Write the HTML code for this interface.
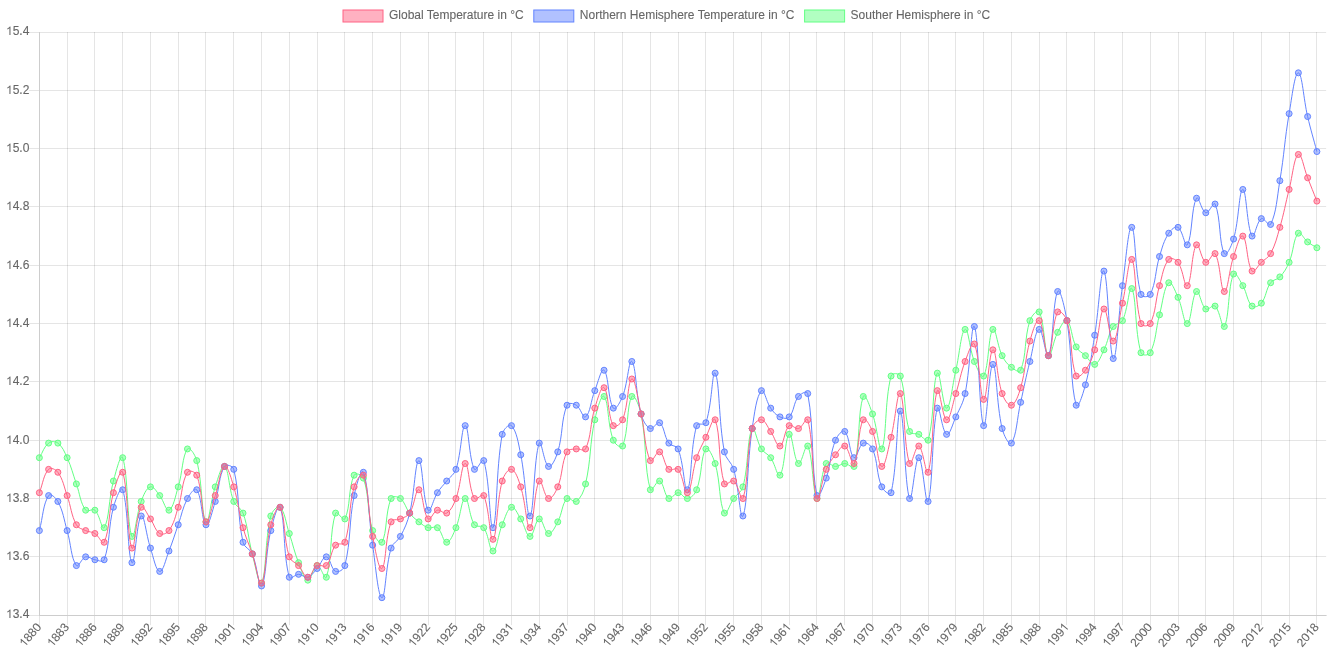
<!DOCTYPE html>
<html><head><meta charset="utf-8"><title>Global Temperature</title>
<style>html,body{margin:0;padding:0;background:#fff;overflow:hidden}svg{will-change:transform}body{font-family:"Liberation Sans",sans-serif}</style></head>
<body>
<svg width="1333" height="666" viewBox="0 0 1333 666" style="display:block">
<rect width="1333" height="666" fill="#fff"/>
<g fill="none" stroke-width="1" stroke="rgba(0,0,0,0.1)"><path d="M39.50,32.00V615.00"/><path d="M39.50,616.00V625.15"/><path d="M67.50,32.00V615.00"/><path d="M67.50,616.00V625.15"/><path d="M94.50,32.00V615.00"/><path d="M94.50,616.00V625.15"/><path d="M122.50,32.00V615.00"/><path d="M122.50,616.00V625.15"/><path d="M150.50,32.00V615.00"/><path d="M150.50,616.00V625.15"/><path d="M178.50,32.00V615.00"/><path d="M178.50,616.00V625.15"/><path d="M205.50,32.00V615.00"/><path d="M205.50,616.00V625.15"/><path d="M233.50,32.00V615.00"/><path d="M233.50,616.00V625.15"/><path d="M261.50,32.00V615.00"/><path d="M261.50,616.00V625.15"/><path d="M289.50,32.00V615.00"/><path d="M289.50,616.00V625.15"/><path d="M317.50,32.00V615.00"/><path d="M317.50,616.00V625.15"/><path d="M344.50,32.00V615.00"/><path d="M344.50,616.00V625.15"/><path d="M372.50,32.00V615.00"/><path d="M372.50,616.00V625.15"/><path d="M400.50,32.00V615.00"/><path d="M400.50,616.00V625.15"/><path d="M428.50,32.00V615.00"/><path d="M428.50,616.00V625.15"/><path d="M455.50,32.00V615.00"/><path d="M455.50,616.00V625.15"/><path d="M483.50,32.00V615.00"/><path d="M483.50,616.00V625.15"/><path d="M511.50,32.00V615.00"/><path d="M511.50,616.00V625.15"/><path d="M539.50,32.00V615.00"/><path d="M539.50,616.00V625.15"/><path d="M567.50,32.00V615.00"/><path d="M567.50,616.00V625.15"/><path d="M594.50,32.00V615.00"/><path d="M594.50,616.00V625.15"/><path d="M622.50,32.00V615.00"/><path d="M622.50,616.00V625.15"/><path d="M650.50,32.00V615.00"/><path d="M650.50,616.00V625.15"/><path d="M678.50,32.00V615.00"/><path d="M678.50,616.00V625.15"/><path d="M705.50,32.00V615.00"/><path d="M705.50,616.00V625.15"/><path d="M733.50,32.00V615.00"/><path d="M733.50,616.00V625.15"/><path d="M761.50,32.00V615.00"/><path d="M761.50,616.00V625.15"/><path d="M789.50,32.00V615.00"/><path d="M789.50,616.00V625.15"/><path d="M816.50,32.00V615.00"/><path d="M816.50,616.00V625.15"/><path d="M844.50,32.00V615.00"/><path d="M844.50,616.00V625.15"/><path d="M872.50,32.00V615.00"/><path d="M872.50,616.00V625.15"/><path d="M900.50,32.00V615.00"/><path d="M900.50,616.00V625.15"/><path d="M928.50,32.00V615.00"/><path d="M928.50,616.00V625.15"/><path d="M955.50,32.00V615.00"/><path d="M955.50,616.00V625.15"/><path d="M983.50,32.00V615.00"/><path d="M983.50,616.00V625.15"/><path d="M1011.50,32.00V615.00"/><path d="M1011.50,616.00V625.15"/><path d="M1039.50,32.00V615.00"/><path d="M1039.50,616.00V625.15"/><path d="M1066.50,32.00V615.00"/><path d="M1066.50,616.00V625.15"/><path d="M1094.50,32.00V615.00"/><path d="M1094.50,616.00V625.15"/><path d="M1122.50,32.00V615.00"/><path d="M1122.50,616.00V625.15"/><path d="M1150.50,32.00V615.00"/><path d="M1150.50,616.00V625.15"/><path d="M1178.50,32.00V615.00"/><path d="M1178.50,616.00V625.15"/><path d="M1205.50,32.00V615.00"/><path d="M1205.50,616.00V625.15"/><path d="M1233.50,32.00V615.00"/><path d="M1233.50,616.00V625.15"/><path d="M1261.50,32.00V615.00"/><path d="M1261.50,616.00V625.15"/><path d="M1289.50,32.00V615.00"/><path d="M1289.50,616.00V625.15"/><path d="M1316.50,32.00V615.00"/><path d="M1316.50,616.00V625.15"/><path d="M40.00,615.50H1326.14"/><path d="M29.06,615.50H39.00"/><path d="M40.00,556.50H1326.14"/><path d="M29.06,556.50H39.00"/><path d="M40.00,498.50H1326.14"/><path d="M29.06,498.50H39.00"/><path d="M40.00,440.50H1326.14"/><path d="M29.06,440.50H39.00"/><path d="M40.00,381.50H1326.14"/><path d="M29.06,381.50H39.00"/><path d="M40.00,323.50H1326.14"/><path d="M29.06,323.50H39.00"/><path d="M40.00,265.50H1326.14"/><path d="M29.06,265.50H39.00"/><path d="M40.00,206.50H1326.14"/><path d="M29.06,206.50H39.00"/><path d="M40.00,148.50H1326.14"/><path d="M29.06,148.50H39.00"/><path d="M40.00,90.50H1326.14"/><path d="M29.06,90.50H39.00"/><path d="M40.00,32.50H1326.14"/><path d="M29.06,32.50H39.00"/><path d="M39.50,32.00V616.00"/><path d="M39.00,615.50H1327.00"/></g>
<defs><path id="g1" d="M763 0H583V1147Q518 1085 412.5 1023Q307 961 223 930V1104Q374 1175 487 1276Q600 1377 647 1472H763Z" transform="scale(0.005859,-0.005859)"/></defs>
<g font-family="'Liberation Sans', sans-serif" font-size="12" fill="#666" stroke="#666" stroke-width="0.1"><text y="618.00" x="12.68 19.35 22.69">3.4</text><use href="#g1" x="6.00" y="618.00"/><text y="560.00" x="12.68 19.35 22.69">3.6</text><use href="#g1" x="6.00" y="560.00"/><text y="502.00" x="12.68 19.35 22.69">3.8</text><use href="#g1" x="6.00" y="502.00"/><text y="444.00" x="12.68 19.35 22.69">4.0</text><use href="#g1" x="6.00" y="444.00"/><text y="385.00" x="12.68 19.35 22.69">4.2</text><use href="#g1" x="6.00" y="385.00"/><text y="327.00" x="12.68 19.35 22.69">4.4</text><use href="#g1" x="6.00" y="327.00"/><text y="269.00" x="12.68 19.35 22.69">4.6</text><use href="#g1" x="6.00" y="269.00"/><text y="210.00" x="12.68 19.35 22.69">4.8</text><use href="#g1" x="6.00" y="210.00"/><text y="152.00" x="12.68 19.35 22.69">5.0</text><use href="#g1" x="6.00" y="152.00"/><text y="94.00" x="12.68 19.35 22.69">5.2</text><use href="#g1" x="6.00" y="94.00"/><text y="35.00" x="12.68 19.35 22.69">5.4</text><use href="#g1" x="6.00" y="35.00"/><g transform="translate(39.36,625.15) rotate(-50)"><text y="3.32" x="-20.02 -13.35 -6.67">880</text><use href="#g1" x="-26.70" y="3.32"/></g><g transform="translate(67.13,625.15) rotate(-50)"><text y="3.32" x="-20.02 -13.35 -6.67">883</text><use href="#g1" x="-26.70" y="3.32"/></g><g transform="translate(94.90,625.15) rotate(-50)"><text y="3.32" x="-20.02 -13.35 -6.67">886</text><use href="#g1" x="-26.70" y="3.32"/></g><g transform="translate(122.68,625.15) rotate(-50)"><text y="3.32" x="-20.02 -13.35 -6.67">889</text><use href="#g1" x="-26.70" y="3.32"/></g><g transform="translate(150.45,625.15) rotate(-50)"><text y="3.32" x="-20.02 -13.35 -6.67">892</text><use href="#g1" x="-26.70" y="3.32"/></g><g transform="translate(178.22,625.15) rotate(-50)"><text y="3.32" x="-20.02 -13.35 -6.67">895</text><use href="#g1" x="-26.70" y="3.32"/></g><g transform="translate(205.99,625.15) rotate(-50)"><text y="3.32" x="-20.02 -13.35 -6.67">898</text><use href="#g1" x="-26.70" y="3.32"/></g><g transform="translate(233.77,625.15) rotate(-50)"><text y="3.32" x="-20.02 -13.35">90</text><use href="#g1" x="-26.70" y="3.32"/><use href="#g1" x="-6.67" y="3.32"/></g><g transform="translate(261.54,625.15) rotate(-50)"><text y="3.32" x="-20.02 -13.35 -6.67">904</text><use href="#g1" x="-26.70" y="3.32"/></g><g transform="translate(289.31,625.15) rotate(-50)"><text y="3.32" x="-20.02 -13.35 -6.67">907</text><use href="#g1" x="-26.70" y="3.32"/></g><g transform="translate(317.08,625.15) rotate(-50)"><text y="3.32" x="-20.02 -6.67">90</text><use href="#g1" x="-26.70" y="3.32"/><use href="#g1" x="-13.35" y="3.32"/></g><g transform="translate(344.85,625.15) rotate(-50)"><text y="3.32" x="-20.02 -6.67">93</text><use href="#g1" x="-26.70" y="3.32"/><use href="#g1" x="-13.35" y="3.32"/></g><g transform="translate(372.63,625.15) rotate(-50)"><text y="3.32" x="-20.02 -6.67">96</text><use href="#g1" x="-26.70" y="3.32"/><use href="#g1" x="-13.35" y="3.32"/></g><g transform="translate(400.40,625.15) rotate(-50)"><text y="3.32" x="-20.02 -6.67">99</text><use href="#g1" x="-26.70" y="3.32"/><use href="#g1" x="-13.35" y="3.32"/></g><g transform="translate(428.17,625.15) rotate(-50)"><text y="3.32" x="-20.02 -13.35 -6.67">922</text><use href="#g1" x="-26.70" y="3.32"/></g><g transform="translate(455.94,625.15) rotate(-50)"><text y="3.32" x="-20.02 -13.35 -6.67">925</text><use href="#g1" x="-26.70" y="3.32"/></g><g transform="translate(483.72,625.15) rotate(-50)"><text y="3.32" x="-20.02 -13.35 -6.67">928</text><use href="#g1" x="-26.70" y="3.32"/></g><g transform="translate(511.49,625.15) rotate(-50)"><text y="3.32" x="-20.02 -13.35">93</text><use href="#g1" x="-26.70" y="3.32"/><use href="#g1" x="-6.67" y="3.32"/></g><g transform="translate(539.26,625.15) rotate(-50)"><text y="3.32" x="-20.02 -13.35 -6.67">934</text><use href="#g1" x="-26.70" y="3.32"/></g><g transform="translate(567.03,625.15) rotate(-50)"><text y="3.32" x="-20.02 -13.35 -6.67">937</text><use href="#g1" x="-26.70" y="3.32"/></g><g transform="translate(594.80,625.15) rotate(-50)"><text y="3.32" x="-20.02 -13.35 -6.67">940</text><use href="#g1" x="-26.70" y="3.32"/></g><g transform="translate(622.58,625.15) rotate(-50)"><text y="3.32" x="-20.02 -13.35 -6.67">943</text><use href="#g1" x="-26.70" y="3.32"/></g><g transform="translate(650.35,625.15) rotate(-50)"><text y="3.32" x="-20.02 -13.35 -6.67">946</text><use href="#g1" x="-26.70" y="3.32"/></g><g transform="translate(678.12,625.15) rotate(-50)"><text y="3.32" x="-20.02 -13.35 -6.67">949</text><use href="#g1" x="-26.70" y="3.32"/></g><g transform="translate(705.89,625.15) rotate(-50)"><text y="3.32" x="-20.02 -13.35 -6.67">952</text><use href="#g1" x="-26.70" y="3.32"/></g><g transform="translate(733.67,625.15) rotate(-50)"><text y="3.32" x="-20.02 -13.35 -6.67">955</text><use href="#g1" x="-26.70" y="3.32"/></g><g transform="translate(761.44,625.15) rotate(-50)"><text y="3.32" x="-20.02 -13.35 -6.67">958</text><use href="#g1" x="-26.70" y="3.32"/></g><g transform="translate(789.21,625.15) rotate(-50)"><text y="3.32" x="-20.02 -13.35">96</text><use href="#g1" x="-26.70" y="3.32"/><use href="#g1" x="-6.67" y="3.32"/></g><g transform="translate(816.98,625.15) rotate(-50)"><text y="3.32" x="-20.02 -13.35 -6.67">964</text><use href="#g1" x="-26.70" y="3.32"/></g><g transform="translate(844.75,625.15) rotate(-50)"><text y="3.32" x="-20.02 -13.35 -6.67">967</text><use href="#g1" x="-26.70" y="3.32"/></g><g transform="translate(872.53,625.15) rotate(-50)"><text y="3.32" x="-20.02 -13.35 -6.67">970</text><use href="#g1" x="-26.70" y="3.32"/></g><g transform="translate(900.30,625.15) rotate(-50)"><text y="3.32" x="-20.02 -13.35 -6.67">973</text><use href="#g1" x="-26.70" y="3.32"/></g><g transform="translate(928.07,625.15) rotate(-50)"><text y="3.32" x="-20.02 -13.35 -6.67">976</text><use href="#g1" x="-26.70" y="3.32"/></g><g transform="translate(955.84,625.15) rotate(-50)"><text y="3.32" x="-20.02 -13.35 -6.67">979</text><use href="#g1" x="-26.70" y="3.32"/></g><g transform="translate(983.62,625.15) rotate(-50)"><text y="3.32" x="-20.02 -13.35 -6.67">982</text><use href="#g1" x="-26.70" y="3.32"/></g><g transform="translate(1011.39,625.15) rotate(-50)"><text y="3.32" x="-20.02 -13.35 -6.67">985</text><use href="#g1" x="-26.70" y="3.32"/></g><g transform="translate(1039.16,625.15) rotate(-50)"><text y="3.32" x="-20.02 -13.35 -6.67">988</text><use href="#g1" x="-26.70" y="3.32"/></g><g transform="translate(1066.93,625.15) rotate(-50)"><text y="3.32" x="-20.02 -13.35">99</text><use href="#g1" x="-26.70" y="3.32"/><use href="#g1" x="-6.67" y="3.32"/></g><g transform="translate(1094.70,625.15) rotate(-50)"><text y="3.32" x="-20.02 -13.35 -6.67">994</text><use href="#g1" x="-26.70" y="3.32"/></g><g transform="translate(1122.48,625.15) rotate(-50)"><text y="3.32" x="-20.02 -13.35 -6.67">997</text><use href="#g1" x="-26.70" y="3.32"/></g><g transform="translate(1150.25,625.15) rotate(-50)"><text y="3.32" x="-26.70 -20.02 -13.35 -6.67">2000</text></g><g transform="translate(1178.02,625.15) rotate(-50)"><text y="3.32" x="-26.70 -20.02 -13.35 -6.67">2003</text></g><g transform="translate(1205.79,625.15) rotate(-50)"><text y="3.32" x="-26.70 -20.02 -13.35 -6.67">2006</text></g><g transform="translate(1233.57,625.15) rotate(-50)"><text y="3.32" x="-26.70 -20.02 -13.35 -6.67">2009</text></g><g transform="translate(1261.34,625.15) rotate(-50)"><text y="3.32" x="-26.70 -20.02 -6.67">202</text><use href="#g1" x="-13.35" y="3.32"/></g><g transform="translate(1289.11,625.15) rotate(-50)"><text y="3.32" x="-26.70 -20.02 -6.67">205</text><use href="#g1" x="-13.35" y="3.32"/></g><g transform="translate(1316.88,625.15) rotate(-50)"><text y="3.32" x="-26.70 -20.02 -6.67">208</text><use href="#g1" x="-13.35" y="3.32"/></g></g>
<rect x="343.0" y="10" width="40" height="12" fill="rgba(255,99,132,0.5)" stroke="rgb(255,99,132)" stroke-width="1"/><text x="389.0" y="19.2" font-family="'Liberation Sans', sans-serif" font-size="12" fill="#666" stroke="#666" stroke-width="0.1">Global Temperature in °C</text><rect x="533.8" y="10" width="40" height="12" fill="rgba(99,132,255,0.5)" stroke="rgb(99,132,255)" stroke-width="1"/><text x="579.8" y="19.2" font-family="'Liberation Sans', sans-serif" font-size="12" fill="#666" stroke="#666" stroke-width="0.1">Northern Hemisphere Temperature in °C</text><rect x="804.6" y="10" width="40" height="12" fill="rgba(99,255,132,0.5)" stroke="rgb(99,255,132)" stroke-width="1"/><text x="850.6" y="19.2" font-family="'Liberation Sans', sans-serif" font-size="12" fill="#666" stroke="#666" stroke-width="0.1">Souther Hemisphere in °C</text>
<path d="M39.36,457.70C43.06,451.87 43.80,446.92 48.62,443.12C51.20,441.09 55.29,441.09 57.87,443.12C62.70,446.92 64.30,451.45 67.13,457.70C71.70,467.77 72.69,473.44 76.39,483.94C80.09,494.44 80.09,502.31 85.65,510.18C87.50,512.80 92.54,507.95 94.90,510.18C99.95,514.95 101.99,531.10 104.16,527.68C109.39,519.44 108.57,499.35 113.42,481.03C115.98,471.36 120.90,452.37 122.68,457.70C128.30,474.53 126.85,524.41 131.93,536.42C134.26,541.91 136.18,514.86 141.19,501.44C143.58,495.03 146.19,488.20 150.45,486.86C153.59,485.87 156.56,491.64 159.71,495.60C163.97,500.97 165.94,511.61 168.96,510.18C173.35,508.11 175.32,496.44 178.22,486.86C182.73,471.95 182.12,456.55 187.48,448.95C189.52,446.05 195.30,454.96 196.74,460.62C202.71,484.12 201.32,515.22 205.99,521.85C208.73,525.72 210.68,500.54 215.25,486.86C218.08,478.38 221.68,464.22 224.51,466.45C229.08,470.05 228.52,488.21 233.77,501.44C235.92,506.88 241.08,507.59 243.02,513.10C248.49,528.58 248.00,537.75 252.28,553.92C255.41,565.74 259.23,587.80 261.54,583.08C266.64,572.63 264.56,541.54 270.80,516.01C271.97,511.21 277.73,505.07 280.05,507.27C285.13,512.07 285.78,522.95 289.31,533.51C293.19,545.11 294.07,551.34 298.57,562.67C301.48,570.00 303.87,579.54 307.82,580.16C311.28,580.70 313.11,566.21 317.08,565.58C320.51,565.04 324.96,581.17 326.34,577.25C332.36,560.17 329.26,533.06 335.60,513.10C336.67,509.73 343.40,521.91 344.85,518.93C350.80,506.75 348.03,488.61 354.11,475.19C355.43,472.28 362.23,474.70 363.37,478.11C369.63,496.86 366.84,510.54 372.63,530.59C374.24,536.20 380.03,545.46 381.88,542.26C387.44,532.63 385.01,513.01 391.14,498.52C392.41,495.52 397.81,496.48 400.40,498.52C405.22,502.32 405.39,507.73 409.66,513.10C412.80,517.06 414.93,518.71 418.91,521.85C422.34,524.54 424.16,526.41 428.17,527.68C431.57,528.75 434.84,525.64 437.43,527.68C442.25,531.47 442.98,542.26 446.69,542.26C450.39,542.26 453.27,533.99 455.94,527.68C460.68,516.50 461.32,499.13 465.20,498.52C468.73,497.96 468.97,516.11 474.46,524.76C476.37,527.78 481.65,524.75 483.72,527.68C489.06,535.25 489.46,551.56 492.97,551.00C496.87,550.39 497.90,534.98 502.23,524.76C505.31,517.49 507.26,508.60 511.49,507.27C514.67,506.27 517.57,513.92 520.75,518.93C524.97,525.59 526.30,536.42 530.00,536.42C533.71,536.42 535.31,519.55 539.26,518.93C542.71,518.39 544.54,532.88 548.52,533.51C551.95,534.05 555.02,527.06 557.77,521.85C562.42,513.06 561.69,504.41 567.03,498.52C569.10,496.24 573.85,503.35 576.29,501.44C581.26,497.52 583.81,491.58 585.55,483.94C591.22,458.92 589.47,445.02 594.80,419.79C596.87,410.03 601.40,393.53 604.06,396.47C608.81,401.70 607.37,424.28 613.32,440.21C614.78,444.10 621.26,449.16 622.58,446.04C628.66,431.66 626.52,405.68 631.83,396.47C633.92,392.85 639.57,406.28 641.09,413.96C646.97,443.60 644.00,466.78 650.35,489.77C651.41,493.61 656.71,479.66 659.61,481.03C664.11,483.15 664.09,495.52 668.86,498.52C671.50,500.18 674.42,492.69 678.12,492.69C681.82,492.69 683.96,499.06 687.38,498.52C691.36,497.89 694.91,494.40 696.64,489.77C702.31,474.57 700.65,456.38 705.89,448.95C708.06,445.89 713.26,456.99 715.15,463.53C720.67,482.64 718.89,502.67 724.41,513.10C726.30,516.67 729.69,504.16 733.67,498.52C737.09,493.66 741.43,492.49 742.92,486.86C748.84,464.50 746.81,439.53 752.18,428.54C754.22,424.37 756.72,441.52 761.44,448.95C764.12,453.18 767.80,453.59 770.70,457.70C775.20,464.09 777.58,478.19 779.95,475.19C784.98,468.86 784.93,437.07 789.21,434.37C792.34,432.40 793.97,460.70 798.47,463.53C801.38,465.36 805.72,442.25 807.73,446.04C813.13,456.24 812.57,494.35 816.98,498.52C819.98,501.35 820.40,473.65 826.24,463.53C827.81,460.82 831.79,466.45 835.50,466.45C839.20,466.45 841.05,463.53 844.75,463.53C848.46,463.53 853.12,469.69 854.01,466.45C860.52,442.86 857.49,412.86 863.27,396.47C864.89,391.87 869.91,406.54 872.53,413.96C877.31,427.53 879.34,453.96 881.78,448.95C886.75,438.79 884.46,401.95 891.04,376.06C891.87,372.80 899.25,372.92 900.30,376.06C906.66,395.08 903.24,411.57 909.56,431.46C910.65,434.89 915.33,432.73 918.81,434.37C922.74,436.23 927.04,443.61 928.07,440.21C934.45,419.12 932.50,381.50 937.33,373.14C939.91,368.67 943.02,408.69 946.59,408.13C950.43,407.53 952.27,385.42 955.84,370.23C959.68,353.93 960.98,331.35 965.10,329.41C968.39,327.85 969.48,349.18 974.36,361.48C976.88,367.84 981.64,379.48 983.62,376.06C989.05,366.65 988.20,334.56 992.87,329.41C995.61,326.39 997.31,345.77 1002.13,355.65C1004.71,360.93 1006.90,363.78 1011.39,367.31C1014.31,369.61 1019.45,373.24 1020.65,370.23C1026.86,354.58 1023.99,339.28 1029.90,320.66C1031.40,315.96 1037.52,308.81 1039.16,311.91C1044.92,322.80 1043.67,350.42 1048.42,355.65C1051.08,358.58 1053.03,341.11 1057.68,332.32C1060.43,327.11 1064.35,318.63 1066.93,320.66C1071.76,324.46 1071.11,337.30 1076.19,346.90C1078.52,351.30 1081.74,352.15 1085.45,355.65C1089.15,359.15 1091.56,365.39 1094.70,364.40C1098.97,363.05 1100.94,356.00 1103.96,349.82C1108.35,340.84 1108.06,334.61 1113.22,326.49C1115.47,322.95 1120.65,324.40 1122.48,320.66C1128.05,309.24 1129.22,284.22 1131.73,288.59C1136.62,297.05 1134.51,330.28 1140.99,352.73C1141.92,355.94 1148.83,355.64 1150.25,352.73C1156.23,340.48 1155.52,329.91 1159.51,314.83C1162.92,301.92 1163.88,287.37 1168.76,282.75C1171.29,280.37 1175.19,291.08 1178.02,297.33C1182.59,307.41 1183.91,324.64 1187.28,323.57C1191.32,322.30 1191.89,295.16 1196.54,291.50C1199.29,289.33 1200.82,305.08 1205.79,309.00C1208.23,310.91 1212.81,303.97 1215.05,306.08C1220.22,310.96 1222.12,330.29 1224.31,326.49C1229.52,317.46 1227.78,286.77 1233.57,274.01C1235.18,270.44 1239.87,280.55 1242.82,285.67C1247.27,293.38 1246.91,301.20 1252.08,306.08C1254.32,308.20 1259.10,305.98 1261.34,303.16C1266.51,296.65 1265.62,289.81 1270.60,282.75C1273.02,279.31 1276.98,280.09 1279.85,276.92C1284.39,271.93 1286.44,268.66 1289.11,262.34C1293.84,251.16 1293.14,238.95 1298.37,233.19C1300.54,230.79 1303.64,238.80 1307.63,241.93C1311.05,244.63 1313.18,245.43 1316.88,247.77" fill="none" stroke="rgb(99,255,132)" stroke-width="1"/>
<g fill="rgba(99,255,132,0.5)" stroke="rgb(99,255,132)" stroke-width="1"><circle cx="39.36" cy="457.70" r="3"/><circle cx="48.62" cy="443.12" r="3"/><circle cx="57.87" cy="443.12" r="3"/><circle cx="67.13" cy="457.70" r="3"/><circle cx="76.39" cy="483.94" r="3"/><circle cx="85.65" cy="510.18" r="3"/><circle cx="94.90" cy="510.18" r="3"/><circle cx="104.16" cy="527.68" r="3"/><circle cx="113.42" cy="481.03" r="3"/><circle cx="122.68" cy="457.70" r="3"/><circle cx="131.93" cy="536.42" r="3"/><circle cx="141.19" cy="501.44" r="3"/><circle cx="150.45" cy="486.86" r="3"/><circle cx="159.71" cy="495.60" r="3"/><circle cx="168.96" cy="510.18" r="3"/><circle cx="178.22" cy="486.86" r="3"/><circle cx="187.48" cy="448.95" r="3"/><circle cx="196.74" cy="460.62" r="3"/><circle cx="205.99" cy="521.85" r="3"/><circle cx="215.25" cy="486.86" r="3"/><circle cx="224.51" cy="466.45" r="3"/><circle cx="233.77" cy="501.44" r="3"/><circle cx="243.02" cy="513.10" r="3"/><circle cx="252.28" cy="553.92" r="3"/><circle cx="261.54" cy="583.08" r="3"/><circle cx="270.80" cy="516.01" r="3"/><circle cx="280.05" cy="507.27" r="3"/><circle cx="289.31" cy="533.51" r="3"/><circle cx="298.57" cy="562.67" r="3"/><circle cx="307.82" cy="580.16" r="3"/><circle cx="317.08" cy="565.58" r="3"/><circle cx="326.34" cy="577.25" r="3"/><circle cx="335.60" cy="513.10" r="3"/><circle cx="344.85" cy="518.93" r="3"/><circle cx="354.11" cy="475.19" r="3"/><circle cx="363.37" cy="478.11" r="3"/><circle cx="372.63" cy="530.59" r="3"/><circle cx="381.88" cy="542.26" r="3"/><circle cx="391.14" cy="498.52" r="3"/><circle cx="400.40" cy="498.52" r="3"/><circle cx="409.66" cy="513.10" r="3"/><circle cx="418.91" cy="521.85" r="3"/><circle cx="428.17" cy="527.68" r="3"/><circle cx="437.43" cy="527.68" r="3"/><circle cx="446.69" cy="542.26" r="3"/><circle cx="455.94" cy="527.68" r="3"/><circle cx="465.20" cy="498.52" r="3"/><circle cx="474.46" cy="524.76" r="3"/><circle cx="483.72" cy="527.68" r="3"/><circle cx="492.97" cy="551.00" r="3"/><circle cx="502.23" cy="524.76" r="3"/><circle cx="511.49" cy="507.27" r="3"/><circle cx="520.75" cy="518.93" r="3"/><circle cx="530.00" cy="536.42" r="3"/><circle cx="539.26" cy="518.93" r="3"/><circle cx="548.52" cy="533.51" r="3"/><circle cx="557.77" cy="521.85" r="3"/><circle cx="567.03" cy="498.52" r="3"/><circle cx="576.29" cy="501.44" r="3"/><circle cx="585.55" cy="483.94" r="3"/><circle cx="594.80" cy="419.79" r="3"/><circle cx="604.06" cy="396.47" r="3"/><circle cx="613.32" cy="440.21" r="3"/><circle cx="622.58" cy="446.04" r="3"/><circle cx="631.83" cy="396.47" r="3"/><circle cx="641.09" cy="413.96" r="3"/><circle cx="650.35" cy="489.77" r="3"/><circle cx="659.61" cy="481.03" r="3"/><circle cx="668.86" cy="498.52" r="3"/><circle cx="678.12" cy="492.69" r="3"/><circle cx="687.38" cy="498.52" r="3"/><circle cx="696.64" cy="489.77" r="3"/><circle cx="705.89" cy="448.95" r="3"/><circle cx="715.15" cy="463.53" r="3"/><circle cx="724.41" cy="513.10" r="3"/><circle cx="733.67" cy="498.52" r="3"/><circle cx="742.92" cy="486.86" r="3"/><circle cx="752.18" cy="428.54" r="3"/><circle cx="761.44" cy="448.95" r="3"/><circle cx="770.70" cy="457.70" r="3"/><circle cx="779.95" cy="475.19" r="3"/><circle cx="789.21" cy="434.37" r="3"/><circle cx="798.47" cy="463.53" r="3"/><circle cx="807.73" cy="446.04" r="3"/><circle cx="816.98" cy="498.52" r="3"/><circle cx="826.24" cy="463.53" r="3"/><circle cx="835.50" cy="466.45" r="3"/><circle cx="844.75" cy="463.53" r="3"/><circle cx="854.01" cy="466.45" r="3"/><circle cx="863.27" cy="396.47" r="3"/><circle cx="872.53" cy="413.96" r="3"/><circle cx="881.78" cy="448.95" r="3"/><circle cx="891.04" cy="376.06" r="3"/><circle cx="900.30" cy="376.06" r="3"/><circle cx="909.56" cy="431.46" r="3"/><circle cx="918.81" cy="434.37" r="3"/><circle cx="928.07" cy="440.21" r="3"/><circle cx="937.33" cy="373.14" r="3"/><circle cx="946.59" cy="408.13" r="3"/><circle cx="955.84" cy="370.23" r="3"/><circle cx="965.10" cy="329.41" r="3"/><circle cx="974.36" cy="361.48" r="3"/><circle cx="983.62" cy="376.06" r="3"/><circle cx="992.87" cy="329.41" r="3"/><circle cx="1002.13" cy="355.65" r="3"/><circle cx="1011.39" cy="367.31" r="3"/><circle cx="1020.65" cy="370.23" r="3"/><circle cx="1029.90" cy="320.66" r="3"/><circle cx="1039.16" cy="311.91" r="3"/><circle cx="1048.42" cy="355.65" r="3"/><circle cx="1057.68" cy="332.32" r="3"/><circle cx="1066.93" cy="320.66" r="3"/><circle cx="1076.19" cy="346.90" r="3"/><circle cx="1085.45" cy="355.65" r="3"/><circle cx="1094.70" cy="364.40" r="3"/><circle cx="1103.96" cy="349.82" r="3"/><circle cx="1113.22" cy="326.49" r="3"/><circle cx="1122.48" cy="320.66" r="3"/><circle cx="1131.73" cy="288.59" r="3"/><circle cx="1140.99" cy="352.73" r="3"/><circle cx="1150.25" cy="352.73" r="3"/><circle cx="1159.51" cy="314.83" r="3"/><circle cx="1168.76" cy="282.75" r="3"/><circle cx="1178.02" cy="297.33" r="3"/><circle cx="1187.28" cy="323.57" r="3"/><circle cx="1196.54" cy="291.50" r="3"/><circle cx="1205.79" cy="309.00" r="3"/><circle cx="1215.05" cy="306.08" r="3"/><circle cx="1224.31" cy="326.49" r="3"/><circle cx="1233.57" cy="274.01" r="3"/><circle cx="1242.82" cy="285.67" r="3"/><circle cx="1252.08" cy="306.08" r="3"/><circle cx="1261.34" cy="303.16" r="3"/><circle cx="1270.60" cy="282.75" r="3"/><circle cx="1279.85" cy="276.92" r="3"/><circle cx="1289.11" cy="262.34" r="3"/><circle cx="1298.37" cy="233.19" r="3"/><circle cx="1307.63" cy="241.93" r="3"/><circle cx="1316.88" cy="247.77" r="3"/></g>
<path d="M39.36,530.59C43.06,516.60 42.93,504.56 48.62,495.60C50.34,492.90 55.92,497.75 57.87,501.44C63.33,511.74 63.74,518.84 67.13,530.59C71.15,544.50 70.91,557.82 76.39,565.58C78.32,568.31 81.44,558.16 85.65,556.84C88.85,555.83 91.11,559.15 94.90,559.75C98.52,560.32 103.07,562.86 104.16,559.75C110.47,541.86 108.02,527.68 113.42,507.27C115.42,499.69 121.11,485.07 122.68,489.77C128.51,507.23 127.44,556.29 131.93,562.67C134.84,566.79 136.84,519.44 141.19,516.01C144.25,513.61 146.22,535.44 150.45,548.09C153.63,557.60 155.79,570.80 159.71,571.41C163.20,571.96 165.66,559.33 168.96,551.00C173.07,540.67 174.52,535.26 178.22,524.76C181.92,514.27 182.40,508.12 187.48,498.52C189.80,494.13 194.81,487.04 196.74,489.77C202.21,497.54 201.62,522.01 205.99,524.76C209.03,526.67 212.22,510.99 215.25,501.44C219.62,487.66 218.67,476.56 224.51,466.45C226.07,463.73 232.90,465.82 233.77,469.36C240.31,496.15 236.87,514.13 243.02,542.26C244.27,547.96 250.00,548.52 252.28,553.92C257.40,566.02 258.78,589.47 261.54,585.99C266.18,580.14 265.68,552.36 270.80,530.59C273.08,520.87 278.11,502.37 280.05,507.27C285.52,521.03 282.80,553.66 289.31,577.25C290.21,580.49 294.86,574.33 298.57,574.33C302.27,574.33 304.62,578.25 307.82,577.25C312.03,575.92 313.67,572.26 317.08,568.50C321.07,564.10 322.91,556.29 326.34,556.84C330.32,557.46 331.06,569.27 335.60,571.41C338.47,572.77 343.86,569.65 344.85,565.58C351.27,539.33 348.65,523.14 354.11,495.60C356.05,485.82 361.48,467.23 363.37,472.28C368.89,487.06 368.33,516.10 372.63,545.17C375.74,566.25 378.08,597.06 381.88,597.66C385.48,598.22 385.42,567.00 391.14,548.09C392.83,542.50 397.64,541.64 400.40,536.42C405.05,527.64 407.29,522.81 409.66,513.10C414.69,492.48 415.11,461.21 418.91,460.62C422.51,460.05 422.85,500.97 428.17,510.18C430.26,513.80 433.20,499.34 437.43,492.69C440.61,487.68 442.98,485.69 446.69,481.03C450.39,476.36 454.09,474.90 455.94,469.36C461.50,452.74 461.50,425.63 465.20,425.63C468.90,425.63 468.69,458.47 474.46,469.36C476.10,472.47 482.54,456.92 483.72,460.62C489.95,480.25 489.87,532.08 492.97,527.68C497.27,521.58 495.71,470.31 502.23,434.37C503.12,429.49 509.31,423.23 511.49,425.63C516.72,431.39 518.30,442.83 520.75,454.78C525.70,478.98 526.62,518.15 530.00,516.01C534.02,513.48 533.74,457.90 539.26,443.12C541.15,438.07 544.13,464.37 548.52,466.45C551.54,467.87 555.80,458.39 557.77,451.87C563.21,433.90 560.83,420.84 567.03,405.22C568.24,402.18 573.45,403.43 576.29,405.22C580.86,408.09 582.97,418.91 585.55,416.88C590.37,413.08 590.70,400.97 594.80,390.64C598.11,382.31 601.36,367.67 604.06,370.23C608.77,374.67 607.96,400.53 613.32,408.13C615.37,411.03 620.42,401.91 622.58,396.47C627.82,383.25 628.84,358.65 631.83,361.48C636.24,365.65 635.50,393.70 641.09,413.96C642.90,420.53 645.82,426.40 650.35,428.54C653.22,429.90 657.18,420.80 659.61,422.71C664.58,426.63 663.89,436.07 668.86,443.12C671.29,446.56 676.59,445.09 678.12,448.95C683.99,463.75 684.47,493.43 687.38,489.77C691.88,484.10 690.19,448.96 696.64,425.63C697.60,422.13 704.70,426.10 705.89,422.71C712.10,405.11 712.27,368.61 715.15,373.14C719.68,380.27 718.48,421.07 724.41,451.87C725.89,459.56 731.49,461.82 733.67,469.36C738.90,487.48 740.32,521.74 742.92,516.01C747.73,505.42 747.05,463.28 752.18,428.54C754.46,413.13 756.52,396.05 761.44,390.64C763.93,387.89 766.19,401.74 770.70,408.13C773.60,412.24 775.66,414.85 779.95,416.88C783.07,418.35 787.05,419.27 789.21,416.88C794.45,411.10 793.30,402.98 798.47,396.47C800.71,393.65 807.08,390.12 807.73,393.55C814.49,429.78 810.78,467.26 816.98,495.60C818.18,501.08 823.75,485.57 826.24,478.11C831.15,463.41 829.91,454.27 835.50,440.21C837.32,435.61 842.43,429.26 844.75,431.46C849.84,436.26 849.44,454.82 854.01,457.70C856.85,459.49 858.74,445.26 863.27,443.12C866.14,441.76 870.91,445.12 872.53,448.95C878.31,462.62 876.00,473.19 881.78,486.86C883.41,490.69 890.17,496.25 891.04,492.69C897.58,465.93 896.72,409.92 900.30,411.05C904.13,412.25 904.54,485.88 909.56,498.52C911.94,504.54 915.23,457.14 918.81,457.70C922.64,458.30 925.68,507.84 928.07,501.44C933.09,488.01 931.62,428.82 937.33,408.13C939.02,401.99 942.26,432.33 946.59,434.37C949.66,435.83 952.58,424.08 955.84,416.88C959.98,407.75 963.10,403.33 965.10,393.55C970.50,367.18 971.36,321.30 974.36,326.49C978.77,334.13 979.05,416.28 983.62,425.63C986.46,431.44 989.25,363.83 992.87,364.40C996.66,364.99 996.28,403.68 1002.13,428.54C1003.69,435.17 1009.22,446.19 1011.39,443.12C1016.63,435.69 1016.94,418.63 1020.65,402.30C1024.35,385.97 1025.78,377.70 1029.90,361.48C1033.19,348.54 1035.12,330.68 1039.16,329.41C1042.53,328.35 1046.19,360.20 1048.42,355.65C1053.60,345.04 1052.64,301.01 1057.68,291.50C1060.05,287.01 1064.97,308.63 1066.93,320.66C1072.38,354.11 1070.33,384.91 1076.19,405.22C1077.73,410.57 1083.17,393.42 1085.45,384.81C1090.57,365.43 1091.46,355.14 1094.70,335.24C1098.87,309.66 1100.82,267.13 1103.96,271.09C1108.23,276.46 1109.18,355.39 1113.22,358.56C1116.59,361.22 1118.37,314.77 1122.48,285.67C1125.78,262.29 1128.28,225.73 1131.73,227.36C1135.69,229.22 1134.48,270.82 1140.99,294.42C1141.88,297.64 1148.83,297.32 1150.25,294.42C1156.23,282.16 1155.00,271.42 1159.51,256.51C1162.41,246.93 1163.61,241.31 1168.76,233.19C1171.01,229.65 1175.38,225.69 1178.02,227.36C1182.79,230.36 1185.10,248.28 1187.28,244.85C1192.51,236.61 1191.10,207.61 1196.54,198.20C1198.51,194.78 1201.53,211.43 1205.79,212.78C1208.94,213.77 1213.56,200.74 1215.05,204.03C1220.96,217.06 1218.79,243.17 1224.31,253.60C1226.20,257.17 1231.68,245.56 1233.57,239.02C1239.08,219.91 1239.01,190.05 1242.82,189.45C1246.42,188.88 1246.85,227.87 1252.08,236.10C1254.26,239.53 1256.57,221.61 1261.34,218.61C1263.97,216.95 1269.14,227.42 1270.60,224.44C1276.55,212.26 1276.91,198.33 1279.85,180.70C1284.31,154.01 1284.53,140.31 1289.11,113.64C1291.94,97.15 1294.79,72.26 1298.37,72.82C1302.19,73.42 1303.53,99.15 1307.63,116.56C1310.94,130.65 1313.18,137.55 1316.88,151.55" fill="none" stroke="rgb(99,132,255)" stroke-width="1"/>
<g fill="rgba(99,132,255,0.5)" stroke="rgb(99,132,255)" stroke-width="1"><circle cx="39.36" cy="530.59" r="3"/><circle cx="48.62" cy="495.60" r="3"/><circle cx="57.87" cy="501.44" r="3"/><circle cx="67.13" cy="530.59" r="3"/><circle cx="76.39" cy="565.58" r="3"/><circle cx="85.65" cy="556.84" r="3"/><circle cx="94.90" cy="559.75" r="3"/><circle cx="104.16" cy="559.75" r="3"/><circle cx="113.42" cy="507.27" r="3"/><circle cx="122.68" cy="489.77" r="3"/><circle cx="131.93" cy="562.67" r="3"/><circle cx="141.19" cy="516.01" r="3"/><circle cx="150.45" cy="548.09" r="3"/><circle cx="159.71" cy="571.41" r="3"/><circle cx="168.96" cy="551.00" r="3"/><circle cx="178.22" cy="524.76" r="3"/><circle cx="187.48" cy="498.52" r="3"/><circle cx="196.74" cy="489.77" r="3"/><circle cx="205.99" cy="524.76" r="3"/><circle cx="215.25" cy="501.44" r="3"/><circle cx="224.51" cy="466.45" r="3"/><circle cx="233.77" cy="469.36" r="3"/><circle cx="243.02" cy="542.26" r="3"/><circle cx="252.28" cy="553.92" r="3"/><circle cx="261.54" cy="585.99" r="3"/><circle cx="270.80" cy="530.59" r="3"/><circle cx="280.05" cy="507.27" r="3"/><circle cx="289.31" cy="577.25" r="3"/><circle cx="298.57" cy="574.33" r="3"/><circle cx="307.82" cy="577.25" r="3"/><circle cx="317.08" cy="568.50" r="3"/><circle cx="326.34" cy="556.84" r="3"/><circle cx="335.60" cy="571.41" r="3"/><circle cx="344.85" cy="565.58" r="3"/><circle cx="354.11" cy="495.60" r="3"/><circle cx="363.37" cy="472.28" r="3"/><circle cx="372.63" cy="545.17" r="3"/><circle cx="381.88" cy="597.66" r="3"/><circle cx="391.14" cy="548.09" r="3"/><circle cx="400.40" cy="536.42" r="3"/><circle cx="409.66" cy="513.10" r="3"/><circle cx="418.91" cy="460.62" r="3"/><circle cx="428.17" cy="510.18" r="3"/><circle cx="437.43" cy="492.69" r="3"/><circle cx="446.69" cy="481.03" r="3"/><circle cx="455.94" cy="469.36" r="3"/><circle cx="465.20" cy="425.63" r="3"/><circle cx="474.46" cy="469.36" r="3"/><circle cx="483.72" cy="460.62" r="3"/><circle cx="492.97" cy="527.68" r="3"/><circle cx="502.23" cy="434.37" r="3"/><circle cx="511.49" cy="425.63" r="3"/><circle cx="520.75" cy="454.78" r="3"/><circle cx="530.00" cy="516.01" r="3"/><circle cx="539.26" cy="443.12" r="3"/><circle cx="548.52" cy="466.45" r="3"/><circle cx="557.77" cy="451.87" r="3"/><circle cx="567.03" cy="405.22" r="3"/><circle cx="576.29" cy="405.22" r="3"/><circle cx="585.55" cy="416.88" r="3"/><circle cx="594.80" cy="390.64" r="3"/><circle cx="604.06" cy="370.23" r="3"/><circle cx="613.32" cy="408.13" r="3"/><circle cx="622.58" cy="396.47" r="3"/><circle cx="631.83" cy="361.48" r="3"/><circle cx="641.09" cy="413.96" r="3"/><circle cx="650.35" cy="428.54" r="3"/><circle cx="659.61" cy="422.71" r="3"/><circle cx="668.86" cy="443.12" r="3"/><circle cx="678.12" cy="448.95" r="3"/><circle cx="687.38" cy="489.77" r="3"/><circle cx="696.64" cy="425.63" r="3"/><circle cx="705.89" cy="422.71" r="3"/><circle cx="715.15" cy="373.14" r="3"/><circle cx="724.41" cy="451.87" r="3"/><circle cx="733.67" cy="469.36" r="3"/><circle cx="742.92" cy="516.01" r="3"/><circle cx="752.18" cy="428.54" r="3"/><circle cx="761.44" cy="390.64" r="3"/><circle cx="770.70" cy="408.13" r="3"/><circle cx="779.95" cy="416.88" r="3"/><circle cx="789.21" cy="416.88" r="3"/><circle cx="798.47" cy="396.47" r="3"/><circle cx="807.73" cy="393.55" r="3"/><circle cx="816.98" cy="495.60" r="3"/><circle cx="826.24" cy="478.11" r="3"/><circle cx="835.50" cy="440.21" r="3"/><circle cx="844.75" cy="431.46" r="3"/><circle cx="854.01" cy="457.70" r="3"/><circle cx="863.27" cy="443.12" r="3"/><circle cx="872.53" cy="448.95" r="3"/><circle cx="881.78" cy="486.86" r="3"/><circle cx="891.04" cy="492.69" r="3"/><circle cx="900.30" cy="411.05" r="3"/><circle cx="909.56" cy="498.52" r="3"/><circle cx="918.81" cy="457.70" r="3"/><circle cx="928.07" cy="501.44" r="3"/><circle cx="937.33" cy="408.13" r="3"/><circle cx="946.59" cy="434.37" r="3"/><circle cx="955.84" cy="416.88" r="3"/><circle cx="965.10" cy="393.55" r="3"/><circle cx="974.36" cy="326.49" r="3"/><circle cx="983.62" cy="425.63" r="3"/><circle cx="992.87" cy="364.40" r="3"/><circle cx="1002.13" cy="428.54" r="3"/><circle cx="1011.39" cy="443.12" r="3"/><circle cx="1020.65" cy="402.30" r="3"/><circle cx="1029.90" cy="361.48" r="3"/><circle cx="1039.16" cy="329.41" r="3"/><circle cx="1048.42" cy="355.65" r="3"/><circle cx="1057.68" cy="291.50" r="3"/><circle cx="1066.93" cy="320.66" r="3"/><circle cx="1076.19" cy="405.22" r="3"/><circle cx="1085.45" cy="384.81" r="3"/><circle cx="1094.70" cy="335.24" r="3"/><circle cx="1103.96" cy="271.09" r="3"/><circle cx="1113.22" cy="358.56" r="3"/><circle cx="1122.48" cy="285.67" r="3"/><circle cx="1131.73" cy="227.36" r="3"/><circle cx="1140.99" cy="294.42" r="3"/><circle cx="1150.25" cy="294.42" r="3"/><circle cx="1159.51" cy="256.51" r="3"/><circle cx="1168.76" cy="233.19" r="3"/><circle cx="1178.02" cy="227.36" r="3"/><circle cx="1187.28" cy="244.85" r="3"/><circle cx="1196.54" cy="198.20" r="3"/><circle cx="1205.79" cy="212.78" r="3"/><circle cx="1215.05" cy="204.03" r="3"/><circle cx="1224.31" cy="253.60" r="3"/><circle cx="1233.57" cy="239.02" r="3"/><circle cx="1242.82" cy="189.45" r="3"/><circle cx="1252.08" cy="236.10" r="3"/><circle cx="1261.34" cy="218.61" r="3"/><circle cx="1270.60" cy="224.44" r="3"/><circle cx="1279.85" cy="180.70" r="3"/><circle cx="1289.11" cy="113.64" r="3"/><circle cx="1298.37" cy="72.82" r="3"/><circle cx="1307.63" cy="116.56" r="3"/><circle cx="1316.88" cy="151.55" r="3"/></g>
<path d="M39.36,492.69C43.06,483.36 43.28,475.25 48.62,469.36C50.68,467.09 55.81,469.35 57.87,472.28C63.22,479.85 63.79,486.14 67.13,495.60C71.20,507.14 70.93,514.45 76.39,524.76C78.34,528.45 81.72,528.74 85.65,530.59C89.13,532.24 91.70,531.49 94.90,533.51C99.11,536.16 102.67,545.55 104.16,542.26C110.07,529.22 108.29,512.07 113.42,492.69C115.70,484.08 121.00,467.25 122.68,472.28C128.40,489.41 127.15,539.05 131.93,548.09C134.56,553.04 135.73,515.87 141.19,507.27C143.13,504.21 147.02,514.07 150.45,518.93C154.43,524.57 154.97,530.52 159.71,533.51C162.37,535.19 166.90,533.52 168.96,530.59C174.30,523.02 175.19,516.82 178.22,507.27C182.59,493.49 181.64,482.39 187.48,472.28C189.04,469.57 195.48,471.83 196.74,475.19C202.89,491.66 201.32,516.70 205.99,521.85C208.73,524.86 211.72,506.16 215.25,495.60C219.13,484.00 220.23,468.47 224.51,466.45C227.64,464.97 231.18,478.32 233.77,486.86C238.59,502.81 238.57,511.56 243.02,527.68C245.98,538.39 248.75,543.36 252.28,553.92C256.16,565.52 259.01,587.06 261.54,583.08C266.42,575.39 265.25,547.47 270.80,524.76C272.65,517.15 277.97,503.65 280.05,507.27C285.37,516.48 283.40,538.21 289.31,556.84C290.80,561.54 295.15,561.82 298.57,565.58C302.56,569.98 304.12,577.25 307.82,577.25C311.53,577.25 312.52,568.46 317.08,565.58C319.92,563.79 324.17,567.97 326.34,565.58C331.58,559.80 330.43,551.68 335.60,545.17C337.84,542.35 343.76,545.69 344.85,542.26C351.17,522.37 348.26,508.06 354.11,486.86C355.66,481.24 361.93,471.35 363.37,475.19C369.34,491.18 367.81,512.18 372.63,536.42C375.22,549.50 378.83,570.90 381.88,568.50C386.24,565.07 384.99,538.31 391.14,521.85C392.40,518.49 396.92,520.58 400.40,518.93C404.32,517.08 407.41,516.64 409.66,513.10C414.81,504.98 415.58,488.72 418.91,489.77C422.98,491.05 422.94,513.17 428.17,518.93C430.35,521.33 433.23,511.51 437.43,510.18C440.63,509.17 444.02,514.78 446.69,513.10C451.43,510.11 453.55,504.92 455.94,498.52C460.96,485.10 461.50,463.53 465.20,463.53C468.90,463.53 468.62,488.40 474.46,498.52C476.02,501.23 482.39,492.69 483.72,495.60C489.80,509.02 489.78,541.85 492.97,539.34C497.19,536.02 496.32,503.38 502.23,481.03C503.72,475.39 508.31,468.36 511.49,469.36C515.71,470.69 518.37,479.37 520.75,486.86C525.77,502.69 526.54,528.77 530.00,527.68C533.94,526.44 534.03,489.26 539.26,481.03C541.44,477.60 544.29,497.19 548.52,498.52C551.70,499.52 555.62,492.30 557.77,486.86C563.02,473.64 561.19,463.82 567.03,451.87C568.60,448.66 572.50,449.55 576.29,448.95C579.91,448.38 584.21,451.91 585.55,448.95C591.61,435.58 589.98,424.08 594.80,408.13C597.39,399.59 601.36,385.17 604.06,387.72C608.77,392.17 607.54,415.61 613.32,425.63C614.94,428.44 621.04,423.66 622.58,419.79C628.45,405.00 627.86,380.23 631.83,378.97C635.27,377.89 637.89,399.85 641.09,413.96C645.30,432.51 644.51,448.66 650.35,460.62C651.91,463.82 656.71,450.50 659.61,451.87C664.11,454.00 663.82,464.59 668.86,469.36C671.22,471.59 676.13,466.85 678.12,469.36C683.53,476.18 684.35,494.60 687.38,492.69C691.75,489.93 692.06,471.38 696.64,457.70C699.47,449.23 701.96,445.34 705.89,437.29C709.37,430.18 713.42,415.43 715.15,419.79C720.82,434.09 717.97,462.64 724.41,483.94C725.37,487.13 731.23,479.11 733.67,481.03C738.63,484.94 741.30,503.12 742.92,498.52C748.71,482.12 745.91,455.22 752.18,428.54C753.31,423.73 758.02,419.26 761.44,419.79C765.43,420.42 767.27,426.60 770.70,431.46C774.67,437.09 776.73,447.05 779.95,446.04C784.14,444.72 784.04,430.51 789.21,425.63C791.45,423.51 795.26,429.55 798.47,428.54C802.67,427.22 806.70,415.92 807.73,419.79C814.11,443.91 811.64,484.21 816.98,498.52C819.04,504.04 821.51,480.54 826.24,469.36C828.91,463.05 831.23,460.15 835.50,454.78C838.64,450.82 841.85,444.67 844.75,446.04C849.26,448.17 851.74,466.75 854.01,463.53C859.15,456.26 857.71,429.42 863.27,419.79C865.12,416.59 870.37,426.02 872.53,431.46C877.77,444.68 877.77,465.18 881.78,466.45C885.18,467.52 888.03,449.14 891.04,437.29C895.44,419.98 897.43,389.48 900.30,393.55C904.83,399.98 903.77,447.14 909.56,463.53C911.18,468.13 915.74,444.58 918.81,446.04C923.14,448.08 926.20,477.88 928.07,472.28C933.60,455.72 931.93,405.93 937.33,390.64C939.34,384.94 942.71,419.18 946.59,419.79C950.11,420.35 952.48,404.16 955.84,393.55C959.88,380.83 960.45,373.93 965.10,361.48C967.86,354.10 972.43,340.03 974.36,343.99C979.83,355.20 979.71,398.16 983.62,399.38C987.12,400.49 988.95,351.05 992.87,349.82C996.35,348.72 996.58,376.93 1002.13,393.55C1003.98,399.09 1008.21,406.22 1011.39,405.22C1015.61,403.88 1018.47,395.26 1020.65,387.72C1025.88,369.60 1024.87,359.30 1029.90,341.07C1032.27,332.48 1036.33,318.43 1039.16,320.66C1043.73,324.26 1045.10,357.21 1048.42,355.65C1052.51,353.71 1051.91,322.80 1057.68,311.91C1059.32,308.81 1065.56,315.92 1066.93,320.66C1072.97,341.58 1069.99,359.46 1076.19,376.06C1077.40,379.29 1083.02,373.67 1085.45,370.23C1090.42,363.17 1092.12,358.36 1094.70,349.82C1099.53,333.87 1099.84,310.94 1103.96,309.00C1107.25,307.44 1109.80,342.15 1113.22,341.07C1117.21,339.81 1119.03,318.38 1122.48,303.16C1126.43,285.73 1128.71,256.10 1131.73,259.43C1136.12,264.26 1134.51,301.12 1140.99,323.57C1141.92,326.78 1148.83,326.48 1150.25,323.57C1156.23,311.32 1155.18,300.65 1159.51,285.67C1162.59,274.99 1163.27,266.35 1168.76,259.43C1170.68,257.02 1175.96,259.42 1178.02,262.34C1183.36,269.91 1184.50,288.29 1187.28,285.67C1191.91,281.30 1191.51,251.18 1196.54,244.85C1198.91,241.85 1201.29,260.22 1205.79,262.34C1208.69,263.71 1213.23,250.73 1215.05,253.60C1220.63,262.39 1220.47,290.90 1224.31,291.50C1227.87,292.06 1228.99,270.20 1233.57,256.51C1236.40,248.04 1239.99,233.87 1242.82,236.10C1247.40,239.70 1246.60,263.33 1252.08,271.09C1254.01,273.82 1257.64,265.84 1261.34,262.34C1265.04,258.85 1268.27,257.99 1270.60,253.60C1275.68,244.00 1276.77,238.04 1279.85,227.36C1284.18,212.38 1285.27,204.58 1289.11,189.45C1292.67,175.42 1293.99,157.22 1298.37,154.46C1301.40,152.55 1303.92,168.46 1307.63,177.79C1311.33,187.12 1313.18,191.78 1316.88,201.11" fill="none" stroke="rgb(255,99,132)" stroke-width="1"/>
<g fill="rgba(255,99,132,0.5)" stroke="rgb(255,99,132)" stroke-width="1"><circle cx="39.36" cy="492.69" r="3"/><circle cx="48.62" cy="469.36" r="3"/><circle cx="57.87" cy="472.28" r="3"/><circle cx="67.13" cy="495.60" r="3"/><circle cx="76.39" cy="524.76" r="3"/><circle cx="85.65" cy="530.59" r="3"/><circle cx="94.90" cy="533.51" r="3"/><circle cx="104.16" cy="542.26" r="3"/><circle cx="113.42" cy="492.69" r="3"/><circle cx="122.68" cy="472.28" r="3"/><circle cx="131.93" cy="548.09" r="3"/><circle cx="141.19" cy="507.27" r="3"/><circle cx="150.45" cy="518.93" r="3"/><circle cx="159.71" cy="533.51" r="3"/><circle cx="168.96" cy="530.59" r="3"/><circle cx="178.22" cy="507.27" r="3"/><circle cx="187.48" cy="472.28" r="3"/><circle cx="196.74" cy="475.19" r="3"/><circle cx="205.99" cy="521.85" r="3"/><circle cx="215.25" cy="495.60" r="3"/><circle cx="224.51" cy="466.45" r="3"/><circle cx="233.77" cy="486.86" r="3"/><circle cx="243.02" cy="527.68" r="3"/><circle cx="252.28" cy="553.92" r="3"/><circle cx="261.54" cy="583.08" r="3"/><circle cx="270.80" cy="524.76" r="3"/><circle cx="280.05" cy="507.27" r="3"/><circle cx="289.31" cy="556.84" r="3"/><circle cx="298.57" cy="565.58" r="3"/><circle cx="307.82" cy="577.25" r="3"/><circle cx="317.08" cy="565.58" r="3"/><circle cx="326.34" cy="565.58" r="3"/><circle cx="335.60" cy="545.17" r="3"/><circle cx="344.85" cy="542.26" r="3"/><circle cx="354.11" cy="486.86" r="3"/><circle cx="363.37" cy="475.19" r="3"/><circle cx="372.63" cy="536.42" r="3"/><circle cx="381.88" cy="568.50" r="3"/><circle cx="391.14" cy="521.85" r="3"/><circle cx="400.40" cy="518.93" r="3"/><circle cx="409.66" cy="513.10" r="3"/><circle cx="418.91" cy="489.77" r="3"/><circle cx="428.17" cy="518.93" r="3"/><circle cx="437.43" cy="510.18" r="3"/><circle cx="446.69" cy="513.10" r="3"/><circle cx="455.94" cy="498.52" r="3"/><circle cx="465.20" cy="463.53" r="3"/><circle cx="474.46" cy="498.52" r="3"/><circle cx="483.72" cy="495.60" r="3"/><circle cx="492.97" cy="539.34" r="3"/><circle cx="502.23" cy="481.03" r="3"/><circle cx="511.49" cy="469.36" r="3"/><circle cx="520.75" cy="486.86" r="3"/><circle cx="530.00" cy="527.68" r="3"/><circle cx="539.26" cy="481.03" r="3"/><circle cx="548.52" cy="498.52" r="3"/><circle cx="557.77" cy="486.86" r="3"/><circle cx="567.03" cy="451.87" r="3"/><circle cx="576.29" cy="448.95" r="3"/><circle cx="585.55" cy="448.95" r="3"/><circle cx="594.80" cy="408.13" r="3"/><circle cx="604.06" cy="387.72" r="3"/><circle cx="613.32" cy="425.63" r="3"/><circle cx="622.58" cy="419.79" r="3"/><circle cx="631.83" cy="378.97" r="3"/><circle cx="641.09" cy="413.96" r="3"/><circle cx="650.35" cy="460.62" r="3"/><circle cx="659.61" cy="451.87" r="3"/><circle cx="668.86" cy="469.36" r="3"/><circle cx="678.12" cy="469.36" r="3"/><circle cx="687.38" cy="492.69" r="3"/><circle cx="696.64" cy="457.70" r="3"/><circle cx="705.89" cy="437.29" r="3"/><circle cx="715.15" cy="419.79" r="3"/><circle cx="724.41" cy="483.94" r="3"/><circle cx="733.67" cy="481.03" r="3"/><circle cx="742.92" cy="498.52" r="3"/><circle cx="752.18" cy="428.54" r="3"/><circle cx="761.44" cy="419.79" r="3"/><circle cx="770.70" cy="431.46" r="3"/><circle cx="779.95" cy="446.04" r="3"/><circle cx="789.21" cy="425.63" r="3"/><circle cx="798.47" cy="428.54" r="3"/><circle cx="807.73" cy="419.79" r="3"/><circle cx="816.98" cy="498.52" r="3"/><circle cx="826.24" cy="469.36" r="3"/><circle cx="835.50" cy="454.78" r="3"/><circle cx="844.75" cy="446.04" r="3"/><circle cx="854.01" cy="463.53" r="3"/><circle cx="863.27" cy="419.79" r="3"/><circle cx="872.53" cy="431.46" r="3"/><circle cx="881.78" cy="466.45" r="3"/><circle cx="891.04" cy="437.29" r="3"/><circle cx="900.30" cy="393.55" r="3"/><circle cx="909.56" cy="463.53" r="3"/><circle cx="918.81" cy="446.04" r="3"/><circle cx="928.07" cy="472.28" r="3"/><circle cx="937.33" cy="390.64" r="3"/><circle cx="946.59" cy="419.79" r="3"/><circle cx="955.84" cy="393.55" r="3"/><circle cx="965.10" cy="361.48" r="3"/><circle cx="974.36" cy="343.99" r="3"/><circle cx="983.62" cy="399.38" r="3"/><circle cx="992.87" cy="349.82" r="3"/><circle cx="1002.13" cy="393.55" r="3"/><circle cx="1011.39" cy="405.22" r="3"/><circle cx="1020.65" cy="387.72" r="3"/><circle cx="1029.90" cy="341.07" r="3"/><circle cx="1039.16" cy="320.66" r="3"/><circle cx="1048.42" cy="355.65" r="3"/><circle cx="1057.68" cy="311.91" r="3"/><circle cx="1066.93" cy="320.66" r="3"/><circle cx="1076.19" cy="376.06" r="3"/><circle cx="1085.45" cy="370.23" r="3"/><circle cx="1094.70" cy="349.82" r="3"/><circle cx="1103.96" cy="309.00" r="3"/><circle cx="1113.22" cy="341.07" r="3"/><circle cx="1122.48" cy="303.16" r="3"/><circle cx="1131.73" cy="259.43" r="3"/><circle cx="1140.99" cy="323.57" r="3"/><circle cx="1150.25" cy="323.57" r="3"/><circle cx="1159.51" cy="285.67" r="3"/><circle cx="1168.76" cy="259.43" r="3"/><circle cx="1178.02" cy="262.34" r="3"/><circle cx="1187.28" cy="285.67" r="3"/><circle cx="1196.54" cy="244.85" r="3"/><circle cx="1205.79" cy="262.34" r="3"/><circle cx="1215.05" cy="253.60" r="3"/><circle cx="1224.31" cy="291.50" r="3"/><circle cx="1233.57" cy="256.51" r="3"/><circle cx="1242.82" cy="236.10" r="3"/><circle cx="1252.08" cy="271.09" r="3"/><circle cx="1261.34" cy="262.34" r="3"/><circle cx="1270.60" cy="253.60" r="3"/><circle cx="1279.85" cy="227.36" r="3"/><circle cx="1289.11" cy="189.45" r="3"/><circle cx="1298.37" cy="154.46" r="3"/><circle cx="1307.63" cy="177.79" r="3"/><circle cx="1316.88" cy="201.11" r="3"/></g>
</svg>
</body></html>
